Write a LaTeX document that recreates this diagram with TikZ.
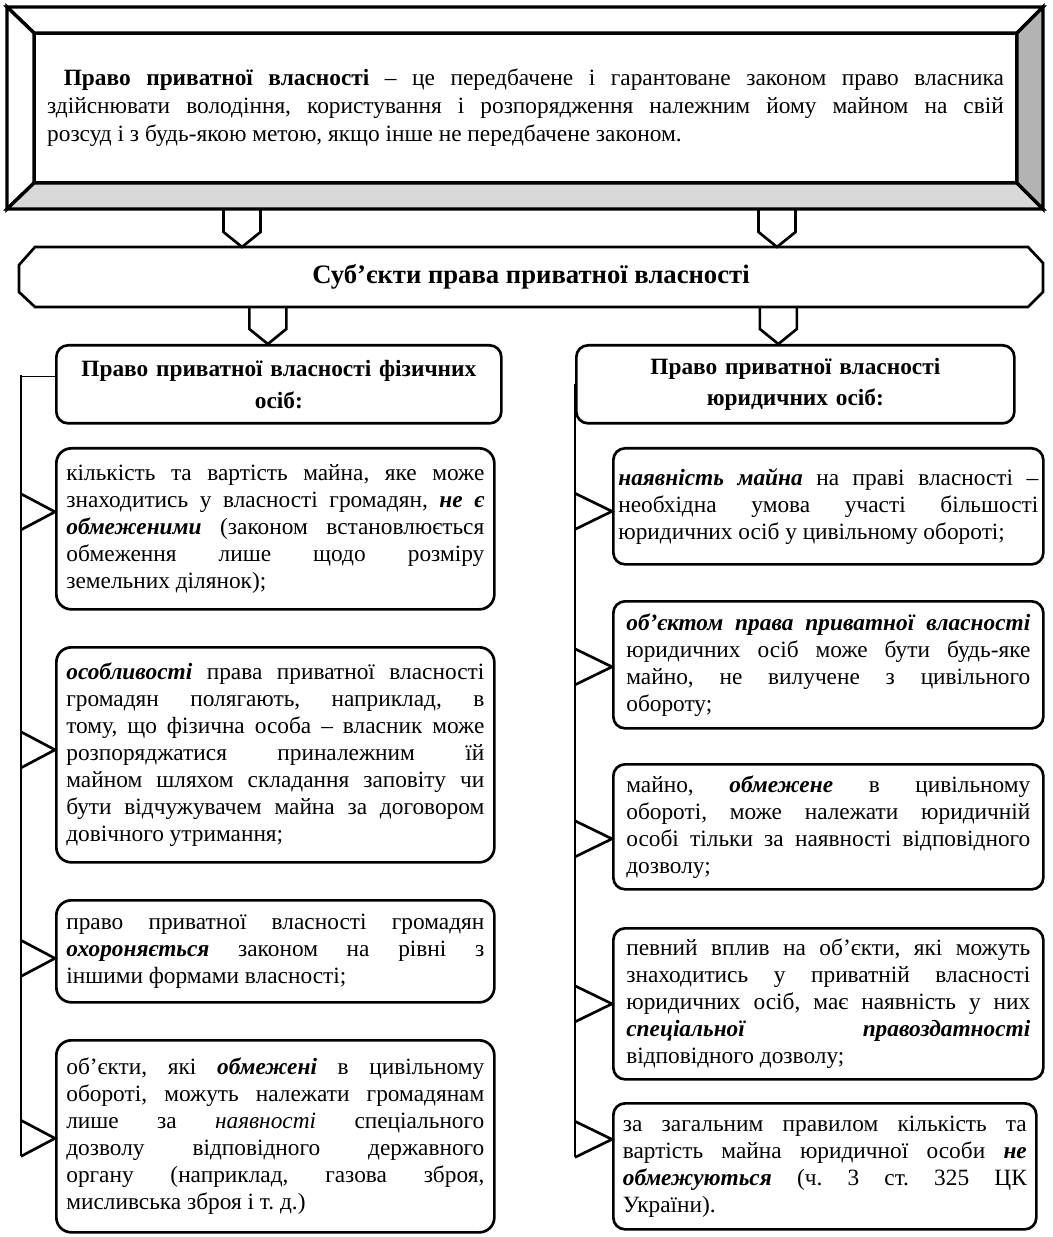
\documentclass[tikz,border=0pt]{standalone}
\usepackage{fontspec}
\setmainfont{Liberation Serif}
\usetikzlibrary{positioning,calc}
\definecolor{bevlight}{HTML}{D9D9D9}
\definecolor{bevdark}{HTML}{B3B3B3}
\newcommand\bi[1]{\textbf{\textit{#1}}}
\frenchspacing
\tikzset{
  bevel/.style={draw,line width=2pt,line join=miter},
  box/.style={draw,line width=1.6pt,inner ysep=2pt},
  box head/.style={box,rounded corners=7pt,font=\fontsize{14}{19}\selectfont\bfseries,align=center,inner xsep=6pt},
  box item/.style={box,rounded corners=7pt,font=\fontsize{14}{16.2}\selectfont,align=justify},
  box left/.style={box item,rounded corners=9pt,text width=250.8pt,inner xsep=6pt},
  box right/.style={box item,text width=242.4pt,inner xsep=7.8pt},
  connect/.style={line width=1.6pt},
  connect thin/.style={line width=0.8pt},
  chevron/.pic={\draw[connect] (-18.5,-37) -- (-18.5,-15) -- (0,0) -- (18.5,-15) -- (18.5,-37);}
}

\begin{document}
\begin{tikzpicture}[x=0.6pt,y=-0.6pt]
  \useasboundingbox (0,0) rectangle (1052,1237);

  % definition in a bevelled frame
  \node[draw,line width=2pt,outer sep=0pt,inner sep=0pt,minimum width=589.8pt,minimum height=90pt,
        text width=574pt,align=justify,font=\fontsize{14}{16.8}\selectfont] (def) at (525.5,108)
    {\hspace*{10pt}\textbf{Право приватної власності} – це передбачене і гарантоване законом право власника\linebreak
     здійснювати володіння, користування і розпорядження належним йому майном на свій\linebreak
     розсуд і з будь-якою метою, якщо інше не передбачене законом.};
  \coordinate (oNW) at ($(def.north west)+(-27,-26)$);
  \coordinate (oNE) at ($(def.north east)+(26,-26)$);
  \coordinate (oSE) at ($(def.south east)+(26,26)$);
  \coordinate (oSW) at ($(def.south west)+(-27,26)$);
  \filldraw[bevel,fill=white] (oNW) -- (oNE) -- (def.north east) -- (def.north west) -- cycle;
  \filldraw[bevel,fill=white] (oNW) -- (def.north west) -- (def.south west) -- (oSW) -- cycle;
  \filldraw[bevel,fill=bevlight] (oSW) -- (def.south west) -- (def.south east) -- (oSE) -- cycle;
  \filldraw[bevel,fill=bevdark] (oNE) -- (oSE) -- (def.south east) -- (def.north east) -- cycle;

  % subjects
  \node[minimum width=614.4pt,minimum height=36pt,outer sep=0pt,
        font=\fontsize{16}{19}\selectfont\bfseries] (subj) at (531,277) {Суб’єкти права приватної власності};
  \draw[box] ($(subj.north west)+(16,0)$) -- ($(subj.north east)+(-15,0)$) -- ($(subj.north east)+(0,16)$)
    -- ($(subj.south east)+(0,-15)$) -- ($(subj.south east)+(-15,0)$) -- ($(subj.south west)+(16,0)$)
    -- ($(subj.south west)+(0,-15)$) -- ($(subj.north west)+(0,18)$) -- cycle;
  \pic at ($(subj.north west)+(223,0)$) {chevron};
  \pic at ($(subj.north west)+(758,0)$) {chevron};

  % headers
  \node[box head,text width=255pt,minimum height=46.8pt,anchor=north west] (hdrL) at (55,344)
    {Право приватної власності фізичних\\осіб:};
  \node[box head,text width=250.8pt,minimum height=46.8pt,right=43.4pt of hdrL] (hdrR)
    {Право приватної власності\\юридичних осіб:};
  \pic at ($(hdrL.north)+(-11,0)$) {chevron};
  \pic at ($(hdrR.north)+(-17,0)$) {chevron};

  % natural persons
  \node[box left,minimum height=96.6pt,below=13.4pt of hdrL.south west,anchor=north west] (iL1)
    {кількість та вартість майна, яке може\linebreak
     знаходитись у власності громадян, \bi{не є}\linebreak
     \bi{обмеженими} (законом встановлюється\linebreak
     обмеження лише щодо розміру\linebreak
     земельних ділянок);};
  \node[box left,minimum height=129pt,below=21.2pt of iL1] (iL2)
    {\bi{особливості} права приватної власності\linebreak
     громадян полягають, наприклад, в\linebreak
     тому, що фізична особа – власник може\linebreak
     розпоряджатися приналежним їй\linebreak
     майном шляхом складання заповіту чи\linebreak
     бути відчужувачем майна за договором\linebreak
     довічного утримання;};
  \node[box left,minimum height=61.2pt,below=21.2pt of iL2] (iL3)
    {право приватної власності громадян\linebreak
     \bi{охороняється} законом на рівні з\linebreak
     іншими формами власності;};
  \node[box left,minimum height=115.2pt,below=21.2pt of iL3] (iL4)
    {об’єкти, які \bi{обмежені} в цивільному\linebreak
     обороті, можуть належати громадянам\linebreak
     лише за \textit{наявності} спеціального\linebreak
     дозволу відповідного державного\linebreak
     органу (наприклад, газова зброя,\linebreak
     мисливська зброя і т. д.)};

  % legal persons
  \node[box right,text width=252pt,inner xsep=3pt,minimum height=69.6pt,
        below=13.4pt of hdrR.south west,anchor=north west,xshift=22.2pt] (iR1)
    {\bi{наявність майна} на праві власності –\linebreak
     необхідна умова участі більшості\linebreak
     юридичних осіб у цивільному обороті;};
  \node[box right,minimum height=76.2pt,below=20.6pt of iR1] (iR2)
    {\bi{об’єктом права приватної власності}\linebreak
     юридичних осіб може бути будь-яке\linebreak
     майно, не вилучене з цивільного\linebreak
     обороту;};
  \node[box right,minimum height=75pt,below=20pt of iR2] (iR3)
    {майно, \bi{обмежене} в цивільному\linebreak
     обороті, може належати юридичній\linebreak
     особі тільки за наявності відповідного\linebreak
     дозволу;};
  \node[box right,minimum height=90.6pt,below=21.8pt of iR3] (iR4)
    {певний вплив на об’єкти, які можуть\linebreak
     знаходитись у приватній власності\linebreak
     юридичних осіб, має наявність у них\linebreak
     \bi{спеціальної правоздатності}\linebreak
     відповідного дозволу;};
  \node[box right,inner xsep=5.7pt,minimum height=75.6pt,below=12.8pt of iR4.south west,anchor=north west] (iR5)
    {за загальним правилом кількість та\linebreak
     вартість майна юридичної особи \bi{не}\linebreak
     \bi{обмежуються} (ч. 3 ст. 325 ЦК\linebreak
     України).};

  % connectors
  \coordinate (spL) at (21,0);
  \draw[connect thin] ($(hdrL.west)+(0,-8)$) -- ($(hdrL.west -| spL)+(0,-8)$);
  \draw[connect] ($(hdrL.west -| spL)+(0,-9)$) -- ($(iL4.west -| spL)+(0,20)$);
  \foreach \bx/\dy in {iL1/-17,iL2/-5,iL3/7,iL4/2}
    \draw[connect] ($(\bx.west -| spL)+(0,\dy-18)$) -- ($(\bx.west)+(0,\dy)$) -- ($(\bx.west -| spL)+(0,\dy+18)$);
  \draw[connect] (hdrR.west) -- ($(iR5.west -| hdrR.west)+(0,-9)$);
  \foreach \bx/\dy in {iR1/5,iR2/2,iR3/12,iR4/0,iR5/-27}
    \draw[connect] ($(\bx.west -| hdrR.west)+(0,\dy-18)$) -- ($(\bx.west)+(0,\dy)$) -- ($(\bx.west -| hdrR.west)+(0,\dy+18)$);

\end{tikzpicture}
\end{document}
